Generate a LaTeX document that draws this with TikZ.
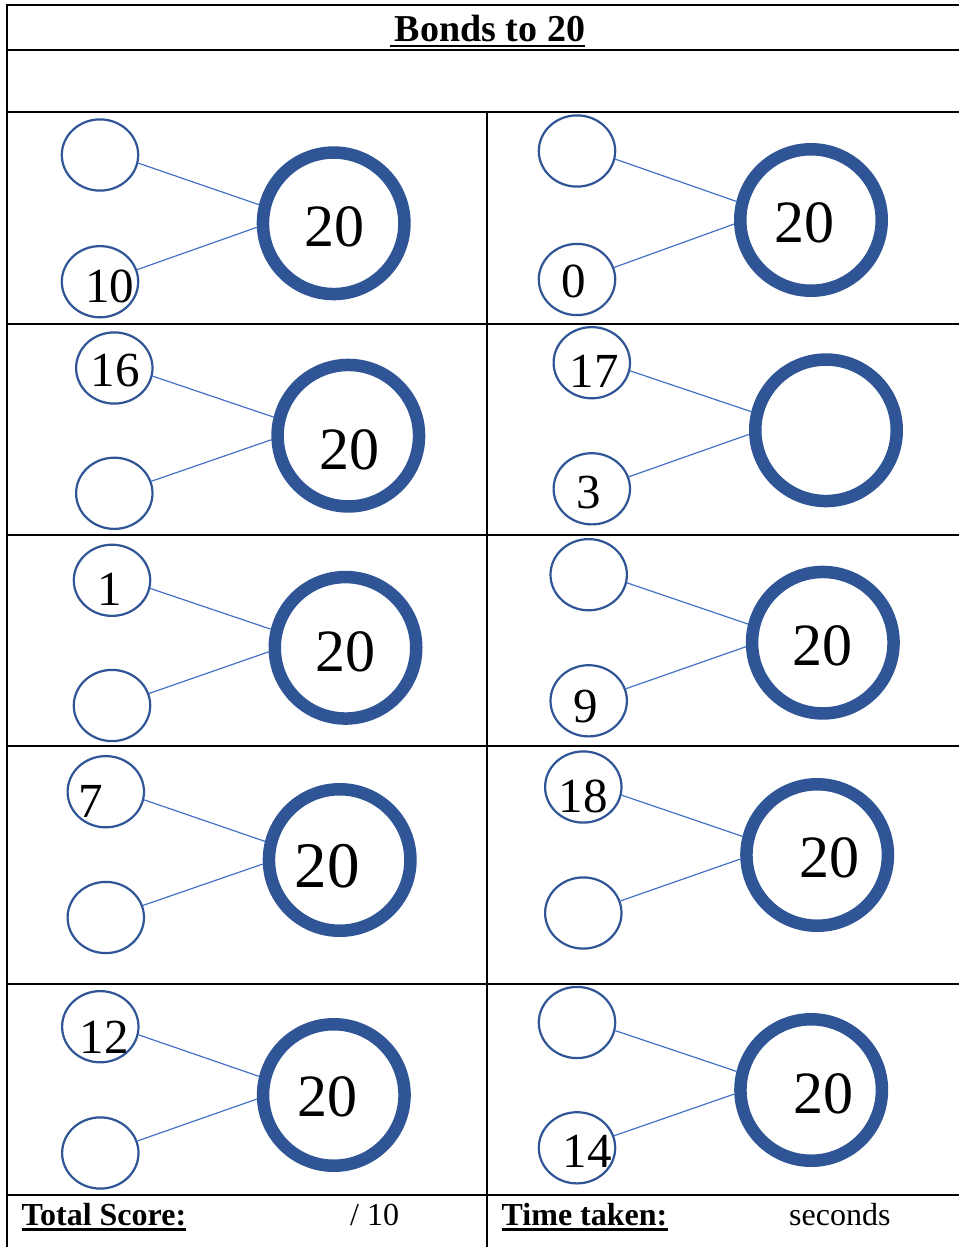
\documentclass[tikz,border=0pt]{standalone}
\usepackage{fontspec}
\setmainfont{Liberation Serif}
\usetikzlibrary{shapes.geometric}
\definecolor{ringc}{HTML}{2F5597}
\definecolor{connc}{HTML}{4472C4}
\newcommand{\bondgroup}[6]{%
  \node[smallc] (#1t) at (#2,#3) {};
  \node[smallc] (#1b) at (#2,#4) {};
  \node[bigc] (#1c) at (#5,#6) {};
  \draw[connline] (#1t.-12) -- (#1c.166);
  \draw[connline] (#1b.18) -- (#1c.183);
}
\begin{document}
\begin{tikzpicture}[x=1pt,y=-1pt,
  gridline/.style={line width=2pt, black},
  smallc/.style={ellipse, draw=ringc, line width=2.2pt, minimum width=76.4pt, minimum height=71.2pt, inner sep=0pt},
  bigc/.style={circle, draw=ringc, line width=12.5pt, minimum size=141.5pt, inner sep=0pt},
  connline/.style={draw=connc, line width=1.2pt},
  snum/.style={font=\fontsize{49}{49}\selectfont, inner sep=0pt},
  bnum/.style={font=\fontsize{60}{60}\selectfont, inner sep=0pt},
  foot/.style={font=\fontsize{32}{32}\selectfont, inner sep=0pt, anchor=base west},
  footb/.style={font=\fontsize{32}{32}\selectfont\bfseries, inner sep=0pt, anchor=base west},
  ul/.style={line width=2.5pt, black}
]
\useasboundingbox (0,0) rectangle (959,1247);
\fill[white] (0,0) rectangle (959,1247);

% table lines
\foreach \yy in {5,50,111.7,323.7,535,745.5,984,1194.5}
  \draw[gridline] (5.7,\yy) -- (959,\yy);
\draw[gridline] (6.7,4) -- (6.7,1247);
\draw[gridline] (486.7,111.7) -- (486.7,1247);

% title
\node[font=\fontsize{38}{38}\selectfont\bfseries, inner sep=0pt, anchor=base] (title) at (490,41.5) {Bonds to 20};
\draw[ul] ([xshift=-5pt,yshift=-4pt]title.south west) -- ([yshift=-4pt]title.south east);

% groups
\bondgroup{g1}{100}{155}{281.7}{333.7}{223.3}
\bondgroup{g2}{577}{151}{279.5}{811}{220}
\bondgroup{g3}{114.3}{368}{493.3}{348.3}{435.7}
\bondgroup{g4}{591.8}{362.7}{488.8}{826}{430.3}
\bondgroup{g5}{112}{580.3}{705.5}{345.5}{647.8}
\bondgroup{g6}{588.7}{574.7}{700.8}{822.8}{642.7}
\bondgroup{g7}{105.8}{791.7}{917.5}{339.7}{860}
\bondgroup{g8}{583.3}{787}{913}{817.2}{855}
\bondgroup{g9}{100.3}{1026.7}{1153}{333.8}{1095}
\bondgroup{g10}{577}{1022.5}{1147.8}{811.2}{1090}

% numbers
\node[snum] (n1) at (109.5,286) {10};
\node[bnum] (m1) at (334,226.7) {20};
\node[snum] (n2) at (574,281) {0};
\node[bnum] (m2) at (804.5,223) {20};
\node[snum] (n3) at (115.2,370.8) {16};
\node[bnum] (m3) at (349,450.3) {20};
\node[snum] (n4) at (594.2,371.7) {17};
\node[snum] (n4b) at (588.3,493) {3};
\node[snum] (n5) at (109.5,589.2) {1};
\node[bnum] (m5) at (345.7,651.7) {20};
\node[snum] (n6) at (585.8,706.3) {9};
\node[bnum] (m6) at (822.3,646.3) {20};
\node[snum] (n7) at (91,801.2) {7};
\node[font=\fontsize{65}{65}\selectfont, inner sep=0pt] (m7) at (327,865.7) {20};
\node[snum] (n8) at (583.3,796) {18};
\node[bnum] (m8) at (829,858.3) {20};
\node[snum] (n9) at (104,1037.5) {12};
\node[bnum] (m9) at (327.3,1096.7) {20};
\node[snum] (n10) at (587,1151.7) {14};
\node[bnum] (m10) at (823.3,1094.2) {20};

% footer
\node[footb] (ts) at (21.5,1225) {Total Score:};
\draw[ul] ([yshift=-4pt]ts.south west) -- ([yshift=-4pt]ts.south east);
\node[foot] (sc) at (350,1225) {/ 10};
\node[footb] (tt) at (501.5,1225) {Time taken:};
\draw[ul] ([yshift=-4pt]tt.south west) -- ([yshift=-4pt]tt.south east);
\node[foot] (se) at (789,1225) {seconds};
\end{tikzpicture}
\end{document}
